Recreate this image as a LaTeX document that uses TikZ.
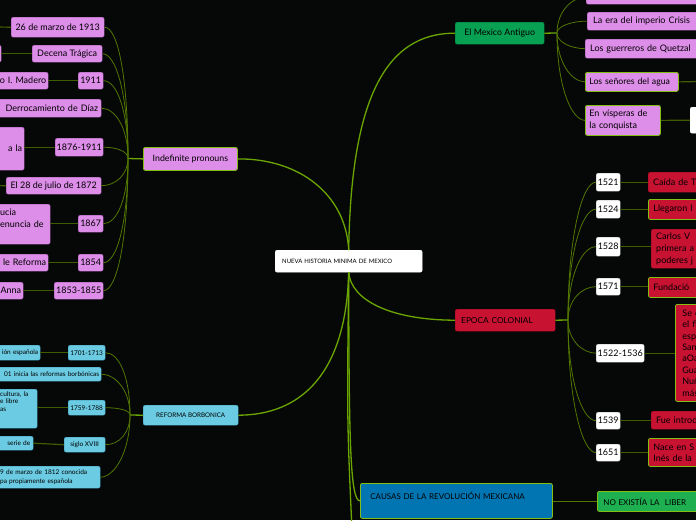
\documentclass[tikz,border=0pt]{standalone}
\usepackage{fontspec}
\setmainfont{Lato}
\definecolor{bg}{RGB}{6,8,8}
\definecolor{vio}{RGB}{221,142,232}
\definecolor{viod}{RGB}{150,80,160}
\definecolor{lime}{RGB}{130,190,20}
\definecolor{crim}{RGB}{200,18,50}
\definecolor{crimd}{RGB}{150,10,35}
\definecolor{lblue}{RGB}{107,203,226}
\definecolor{lblued}{RGB}{60,150,180}
\definecolor{cblue}{RGB}{0,117,178}
\definecolor{egreen}{RGB}{8,160,82}
\definecolor{egreend}{RGB}{0,110,55}
\definecolor{ngreen}{RGB}{30,175,80}
\definecolor{mainln}{RGB}{106,165,0}
\definecolor{subln}{RGB}{82,118,0}
\definecolor{pairln}{RGB}{62,92,0}
\tikzset{
  bx/.style={rectangle, rounded corners=2pt, inner ysep=0pt, inner xsep=3pt, anchor=north west, text=black, font=\fontsize{9}{11.5}\selectfont},
  vb/.style={bx, fill=vio, draw=viod, line width=0.4pt},
  vbl/.style={bx, fill=vio, draw=lime, line width=0.8pt},
  wb/.style={bx, fill=white, draw=gray!60, line width=0.4pt, inner xsep=1pt},
  rdb/.style={bx, fill=crim, draw=crimd, line width=0.4pt, inner xsep=5pt},
  rdl/.style={bx, fill=crim, draw=lime, line width=0.8pt, inner xsep=5pt},
  bb/.style={bx, fill=lblue, draw=lblued, line width=0.4pt, inner xsep=2pt, font=\fontsize{6.5}{7.5}\selectfont},
  mainl/.style={draw=mainln, line width=1.3pt},
  subl/.style={draw=subln, line width=0.8pt},
  pairl/.style={draw=pairln, line width=1.2pt}
}
\begin{document}
\begin{tikzpicture}[x=1pt,y=-1pt]
\useasboundingbox (0,0) rectangle (696,520);
\fill[bg] (0,0) rectangle (696,520);
\clip (0,0) rectangle (696,520);

% ---------- center ----------
\node[bx, fill=white, draw=white, minimum height=22pt, text width=133pt, inner xsep=7pt, align=left, font=\fontsize{6}{7}\selectfont] (ct) at (275,250) {NUEVA HISTORIA MINIMA DE MEXICO};

% ---------- Indefinite pronouns branch ----------
\node[vbl, minimum width=94pt, minimum height=23pt, font=\fontsize{8.8}{10}\selectfont] (ip) at (143,147) {Indefinite pronouns};

\node[vb, minimum width=93pt, minimum height=20pt] (L1) at (11,17) {26 de marzo de 1913};
\node[vb, minimum width=21pt, minimum height=17pt] (L2a) at (-20,45) {};
\node[vb, minimum width=70pt, minimum height=17pt] (L2) at (32,45) {Decena Trágica};
\node[vb, minimum height=17pt, text width=104pt, inner xsep=2pt, align=right] (L3a) at (-60,72) {o I. Madero};
\node[vb, minimum width=25pt, minimum height=17pt, inner xsep=1pt] (L3) at (78,72) {1911};
\node[vb, minimum height=18pt, text width=155pt, align=right] (L4) at (-60,99) {Derrocamiento de Díaz};
\node[vb, minimum height=43pt, text width=80pt, inner xsep=2pt, align=right] (L5a) at (-60,127) {a la};
\node[vb, minimum width=48pt, minimum height=18pt, inner xsep=1pt] (L5) at (55,138) {1876-1911};
\node[vb, minimum width=95pt, minimum height=17pt, inner xsep=1pt] (L6) at (6,177) {El 28 de julio de 1872};
\node[vb, minimum height=40pt, text width=46pt, inner xsep=4pt, align=left] (L7a) at (-4,204) {\mbox{ucia}\\\mbox{enuncia de}\\~};
\node[vb, minimum width=25pt, minimum height=17pt, inner xsep=1pt] (L7) at (78,215) {1867};
\node[vb, minimum height=17pt, text width=104pt, inner xsep=2pt, align=right] (L8a) at (-60,254) {le Reforma};
\node[vb, minimum width=25pt, minimum height=17pt, inner xsep=1pt] (L8) at (78,254) {1854};
\node[vb, minimum height=17pt, text width=79pt, inner xsep=2pt, align=right] (L9a) at (-60,282) {Anna};
\node[vb, minimum width=49pt, minimum height=17pt, inner xsep=1pt] (L9) at (54,282) {1853-1855};

\coordinate (hI) at (128,158.5);
\coordinate (e1) at (-5,27);
\coordinate (e6) at (-5,185.5);

% ---------- REFORMA BORBONICA branch ----------
\node[bx, fill=lblue, draw=lblued, line width=0.4pt, minimum width=95pt, minimum height=20pt, font=\fontsize{6.3}{7}\selectfont] (rb) at (143,405) {REFORMA BORBONICA};
\node[bb, minimum height=15pt, text width=96pt, align=right] (B1a) at (-60,345) {ión española};
\node[bb, minimum width=37pt, minimum height=15pt, inner xsep=1pt] (B1) at (68,345) {1701-1713};
\node[bb, minimum height=14pt, text width=157pt, align=right] (B2) at (-60,367) {01 inicia las reformas borbónicas};
\node[bb, minimum height=39pt, text width=33pt, inner xsep=4pt, align=left] (B3a) at (-4,389) {\mbox{cultura, la}\\\mbox{e libre}\\as\\~\\~};
\node[bb, minimum width=37pt, minimum height=15pt, inner xsep=1pt] (B3) at (68,400) {1759-1788};
\node[bb, minimum height=14pt, text width=87pt, inner xsep=3pt, align=right] (B4a) at (-60,436) {serie de};
\node[bb, minimum width=41pt, minimum height=15pt, inner xsep=1pt] (B4) at (64,437) {siglo XVIII};
\node[bb, minimum height=22pt, text width=96pt, inner xsep=4pt, align=left, font=\fontsize{6.5}{9}\selectfont] (B5) at (-4,466) {\mbox{9 de marzo de 1812 conocida}\\\mbox{pa propiamente española}};
\coordinate (hR) at (130,415);

% ---------- El Mexico Antiguo branch ----------
\node[bx, fill=egreen, draw=egreend, line width=0.4pt, minimum width=89pt, minimum height=22pt, font=\fontsize{8.8}{10}\selectfont] (em) at (455,22) {El Mexico Antiguo};
\node[vb, minimum width=174pt, minimum height=14pt] (R0) at (586,-10) {};
\node[vb, minimum height=18pt, text width=161pt, inner xsep=6pt, align=left] (R1) at (587,12) {La era del imperio Crisis};
\node[vb, minimum height=19pt, text width=165pt, inner xsep=5pt, align=left] (R2) at (585,39) {Los guerreros de Quetzal};
\node[vbl, minimum height=19pt, text width=85pt, inner xsep=4pt, align=left, font=\fontsize{8.7}{10}\selectfont] (R3) at (585,72) {\mbox{Los señores del agua}};
\node[vbl, minimum height=30pt, text width=67pt, inner xsep=4pt, align=left, font=\fontsize{9}{12}\selectfont] (R4) at (585,105) {En vísperas de\\la conquista};
\node[bx, fill=white, draw=white, minimum width=70pt, minimum height=26pt] (R4b) at (690,107) {};
\coordinate (hE) at (557,33);
\coordinate (e3) at (700,81.5);

% ---------- EPOCA COLONIAL branch ----------
\node[bx, fill=crim, draw=crimd, line width=0.4pt, minimum height=22pt, text width=88pt, inner xsep=6pt, align=left, font=\fontsize{8.3}{10}\selectfont] (ec) at (455,309) {EPOCA COLONIAL};
\coordinate (hC) at (568,320);

\node[wb, minimum width=24pt, minimum height=18pt] (Y1) at (596,173) {1521};
\node[wb, minimum width=24pt, minimum height=18pt] (Y2) at (596,200) {1524};
\node[wb, minimum width=24pt, minimum height=19pt] (Y3) at (596,237) {1528};
\node[wb, minimum width=24pt, minimum height=17pt] (Y4) at (596,278) {1571};
\node[wb, minimum width=48pt, minimum height=18pt] (Y5) at (596,344) {1522-1536};
\node[wb, minimum width=24pt, minimum height=17pt] (Y6) at (596,412) {1539};
\node[wb, minimum width=24pt, minimum height=17pt] (Y7) at (596,444) {1651};

\node[rdb, minimum height=20pt, text width=102pt, align=left] (D1) at (648,172) {Caída de T};
\node[rdl, minimum height=20pt, text width=102pt, align=left] (D2) at (648,199) {Llegaron l};
\node[rdb, minimum height=39pt, text width=99pt, align=left, font=\fontsize{9}{12}\selectfont] (D3) at (651,229) {Carlos V\\primera a\\poderes j};
\node[rdl, minimum height=20pt, text width=102pt, align=left] (D4) at (648,277) {Fundació};
\node[rdl, minimum height=97pt, text width=71pt, inner xsep=7pt, align=left, font=\fontsize{9}{11.4}\selectfont] (D5) at (675,304) {Se c\\el fi\\esp\\San\\aOa\\Gua\\Nuñ\\más};
\node[rdb, minimum height=18pt, text width=99pt, align=left] (D6) at (651,411) {Fue introd};
\node[rdl, minimum height=28pt, text width=102pt, align=left, font=\fontsize{9}{11}\selectfont] (D7) at (648,438) {Nace en S\\Inés de la};

% ---------- CAUSAS branch ----------
\node[bx, fill=cblue, draw=lime, line width=0.8pt, minimum height=35pt, text width=172pt, inner xsep=10pt, align=left, font=\fontsize{8}{11}\selectfont] (cb) at (360,483) {\mbox{CAUSAS DE LA REVOLUCIÓN MEXICANA}\\~};
\node[bx, fill=ngreen, draw=lime, line width=0.8pt, minimum height=20pt, text width=151pt, inner xsep=6pt, align=left, font=\fontsize{8}{10}\selectfont] (nb) at (597,491) {NO EXISTÍA LA~ LIBER};
\coordinate (down) at (352,530);

% ---------- main connectors ----------
\draw[mainl] (ct.north) .. controls (351,100) and (385,33) .. (em.west);
\draw[mainl] (ct.north) .. controls (346,195) and (300,158.5) .. (ip.east);
\draw[mainl] (ct.south) .. controls (351,300) and (390,320) .. (ec.west);
\draw[mainl] (ct.south) .. controls (346,375) and (300,415) .. (rb.east);
\draw[mainl] (ct.south) .. controls (349,440) and (350,500.5) .. (cb.west);
\draw[mainl] (ct.south) .. controls (347,420) .. (down);

% ---------- Indefinite pronouns hub ----------
\draw[mainl] (ip.west) -- (hI);
\draw[subl] (L1.east) .. controls +(14,0) and (128,80) .. (hI);
\draw[subl] (L2.east) .. controls +(14,0) and (128,95.5) .. (hI);
\draw[subl] (L3.east) .. controls +(14,0) and (128,111.7) .. (hI);
\draw[subl] (L4.east) .. controls +(14,0) and (128,128.2) .. (hI);
\draw[subl] (L5.east) .. controls +(14,0) and (128,151.6) .. (hI);
\draw[subl] (L6.east) .. controls +(14,0) and (128,174.7) .. (hI);
\draw[subl] (L7.east) .. controls +(14,0) and (128,197.5) .. (hI);
\draw[subl] (L8.east) .. controls +(14,0) and (128,220.9) .. (hI);
\draw[subl] (L9.east) .. controls +(14,0) and (128,237.7) .. (hI);
\draw[pairl] (e1) -- (L1.west);
\draw[pairl] (L2a.east) -- (L2.west);
\draw[pairl] (L3a.east) -- (L3.west);
\draw[pairl] (L5.west) -- (L5.west -| L5a.east);
\draw[pairl] (e6) -- (L6.west);
\draw[pairl] (L7.west) -- (L7.west -| L7a.east);
\draw[pairl] (L8a.east) -- (L8.west);
\draw[pairl] (L9a.east) -- (L9.west);

% ---------- REFORMA hub ----------
\draw[mainl] (rb.west) -- (hR);
\draw[subl] (B1.east) .. controls +(14,0) and (130,377.5) .. (hR);
\draw[subl] (B2.east) .. controls +(14,0) and (130,390.4) .. (hR);
\draw[subl] (B3.east) .. controls +(14,0) and (130,410.5) .. (hR);
\draw[subl] (B4.east) .. controls +(14,0) and (130,432.7) .. (hR);
\draw[subl] (B5.east) .. controls +(14,0) and (130,452.2) .. (hR);
\draw[pairl] (B1a.east) -- (B1.west);
\draw[pairl] (B3.west) -- (B3.west -| B3a.east);
\draw[pairl] (B4a.east) -- (B4.west);

% ---------- El Mexico Antiguo hub ----------
\draw[mainl] (em.east) -- (hE);
\draw[subl] (hE) .. controls (557,11.4) and (572,-3) .. (R0.west);
\draw[subl] (hE) .. controls (557,25.8) and (573,21) .. (R1.west);
\draw[subl] (hE) .. controls (557,42.3) and (571,48.5) .. (R2.west);
\draw[subl] (hE) .. controls (557,62.1) and (571,81.5) .. (R3.west);
\draw[subl] (hE) .. controls (557,85.2) and (571,120) .. (R4.west);
\draw[pairl] (R3.east) -- (e3);
\draw[pairl] (R4.east) -- (R4b.west);

% ---------- EPOCA COLONIAL hub ----------
\draw[mainl] (ec.east) -- (hC);
\draw[subl] (hC) .. controls (568,237.2) and (582,182) .. (Y1.west);
\draw[subl] (hC) .. controls (568,253.4) and (582,209) .. (Y2.west);
\draw[subl] (hC) .. controls (568,275.9) and (582,246.5) .. (Y3.west);
\draw[subl] (hC) .. controls (568,299.9) and (582,286.5) .. (Y4.west);
\draw[subl] (hC) .. controls (568,339.8) and (582,353) .. (Y5.west);
\draw[subl] (hC) .. controls (568,380.3) and (582,420.5) .. (Y6.west);
\draw[subl] (hC) .. controls (568,399.5) and (582,452.5) .. (Y7.west);
\draw[pairl] (Y1.east) -- (Y1.east -| D1.west);
\draw[pairl] (Y2.east) -- (Y2.east -| D2.west);
\draw[pairl] (Y3.east) -- (Y3.east -| D3.west);
\draw[pairl] (Y4.east) -- (Y4.east -| D4.west);
\draw[pairl] (Y5.east) -- (Y5.east -| D5.west);
\draw[pairl] (Y6.east) -- (Y6.east -| D6.west);
\draw[pairl] (Y7.east) -- (Y7.east -| D7.west);

% ---------- CAUSAS ----------
\draw[subl] (cb.east) -- (cb.east -| nb.west);
\end{tikzpicture}
\end{document}
